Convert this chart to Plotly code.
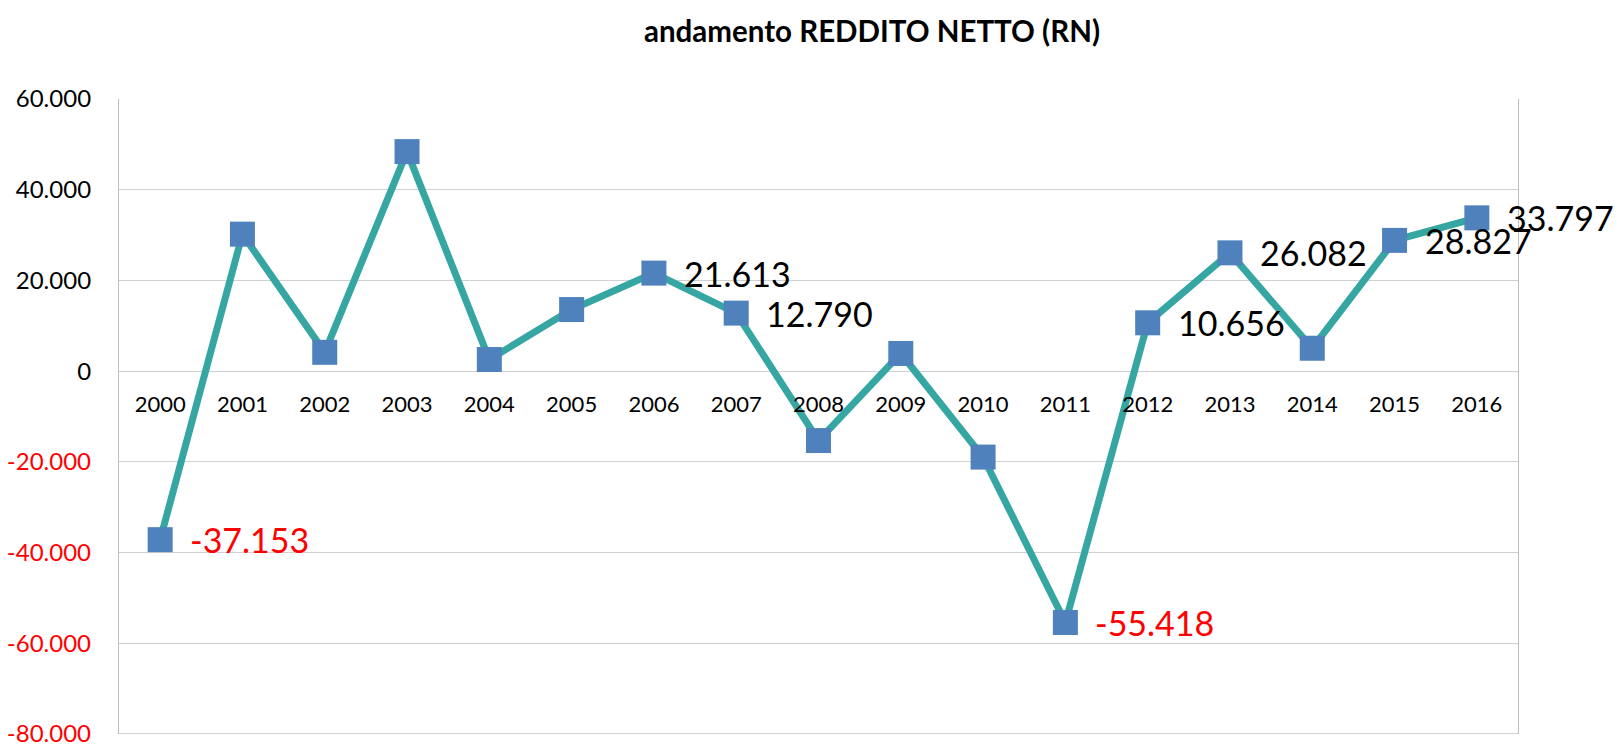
import plotly.graph_objects as go

years = [str(y) for y in range(2000, 2017)]
values = [-37153, 30200, 4150, 48400, 2560, 13580, 21613, 12790, -15300,
          3900, -18950, -55418, 10656, 26082, 5050, 28827, 33797]
labeled_years = ["2000", "2006", "2007", "2011", "2012", "2013", "2015", "2016"]

y_ticks = [-80000, -60000, -40000, -20000, 0, 20000, 40000, 60000]


def fmt(v):
    return f"{v:,}".replace(",", ".")


y_ticktext = [
    (f'<span style="color:#FF0000">{fmt(t)}</span>' if t < 0 else fmt(t))
    for t in y_ticks
]

FONT = "Lato, Carlito, Calibri, 'DejaVu Sans', sans-serif"

fig = go.Figure()
fig.add_trace(go.Scatter(
    x=years, y=values, mode="lines+markers",
    line=dict(color="#36A6A3", width=7),
    marker=dict(symbol="square", size=25, color="#4F81BD",
                line=dict(color="#4F81BD", width=0)),
    cliponaxis=False, hoverinfo="x+y",
))

annotations = []
for i, (yr, v) in enumerate(zip(years, values)):
    if yr in labeled_years:
        annotations.append(dict(
            x=i, y=v, xref="x", yref="y", text=fmt(v),
            showarrow=False, xanchor="left", yanchor="middle",
            xshift=28, yshift=0,
            font=dict(family=FONT, size=34,
                      color="#FF0000" if v < 0 else "#000000"),
        ))

y_min, y_max = -80000, 60000
zero_pos = (0 - y_min) / (y_max - y_min)

fig.update_layout(
    width=1624, height=748,
    margin=dict(l=119, r=106, t=99, b=14, autoexpand=False),
    paper_bgcolor="white", plot_bgcolor="white",
    showlegend=False,
    title=dict(text="<b>andamento REDDITO NETTO (RN)</b>",
               x=872 / 1624, xanchor="center", xref="container",
               y=1 - 32 / 748, yanchor="middle", yref="container",
               font=dict(family=FONT, size=29.5, color="#000000")),
    xaxis=dict(type="category", range=[-0.5, 16.5],
               showgrid=False, showline=False, zeroline=False,
               anchor="free", position=zero_pos, automargin=False,
               ticks="", ticklabelstandoff=18,
               tickfont=dict(family=FONT, size=22, color="#000000")),
    yaxis=dict(range=[y_min, y_max], tickvals=y_ticks, ticktext=y_ticktext,
               showgrid=True, gridcolor="#D0D0D0", gridwidth=1.3,
               zeroline=False, showline=True, mirror=True, automargin=False,
               linecolor="#BFBFBF", linewidth=1.3,
               ticks="", ticklabelstandoff=22, ticklabeloverflow="allow",
               tickfont=dict(family=FONT, size=24, color="#000000")),
    shapes=[dict(type="line", xref="paper", yref="y", x0=0, x1=1,
                 y0=y_min, y1=y_min, line=dict(color="#BFBFBF", width=1.3))],
    annotations=annotations,
)

fig.write_html("out.html", config={"displayModeBar": False},
               post_script="document.body.style.margin='0';")
